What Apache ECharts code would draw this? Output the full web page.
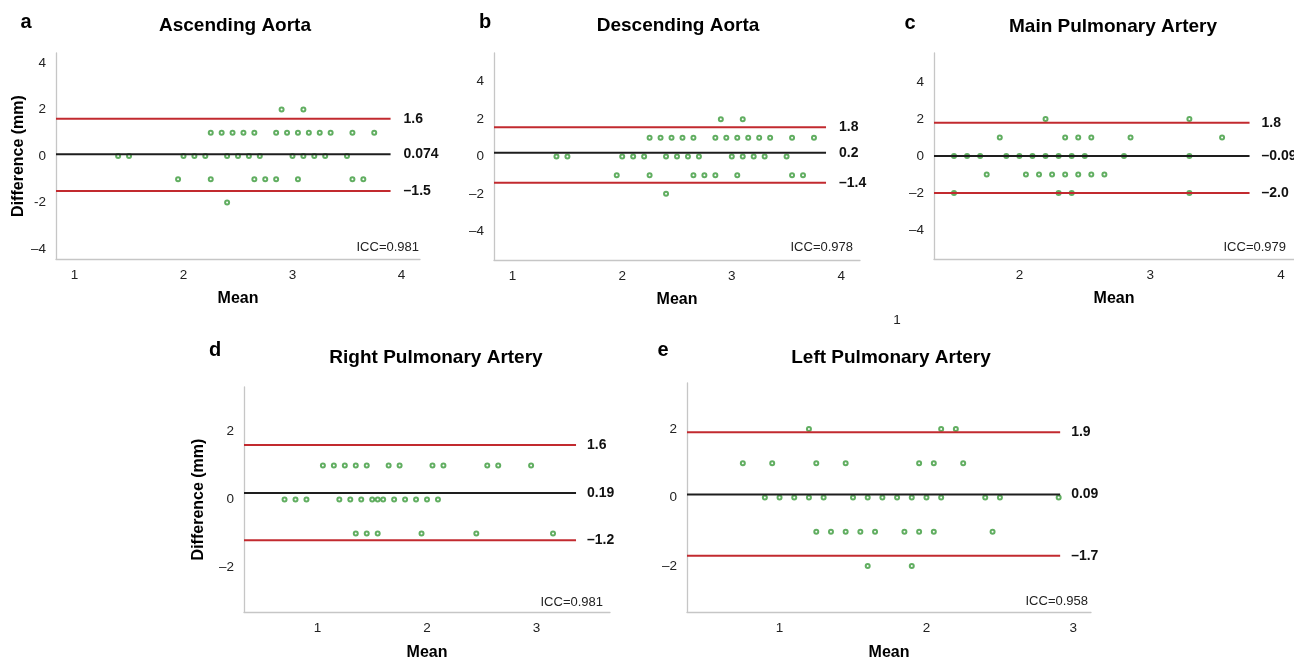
<!DOCTYPE html>
<html><head><meta charset="utf-8">
<script src="https://cdn.jsdelivr.net/npm/echarts@6/dist/echarts.min.js"></script>
<style>html,body{margin:0;padding:0;background:#fff}#c{width:1294px;height:662px}</style>
</head><body><div id="c"></div>
<script>
// ---------- DATA ----------
// difference levels (rows of points)
const diffLevels = [2, 1, 0, -1, -2];

// Panel a: Ascending Aorta — mean values for each difference level
const aAt2  = [2.9, 3.1];
const aAt1  = [2.25, 2.35, 2.45, 2.55, 2.65, 2.85, 2.95, 3.05, 3.15, 3.25, 3.35, 3.55, 3.75];
const aAt0  = [1.4, 1.5, 2.0, 2.1, 2.2, 2.4, 2.5, 2.6, 2.7, 3.0, 3.1, 3.2, 3.3, 3.5];
const aAtM1 = [1.95, 2.25, 2.65, 2.75, 2.85, 3.05, 3.55, 3.65];
const aAtM2 = [2.4];
const aLimits = [1.6, 0.074, -1.5];
const aLimitLabels = ['1.6', '0.074', '\u20131.5'];

// Panel b: Descending Aorta
const bAt2  = [2.9, 3.1];
const bAt1  = [2.25, 2.35, 2.45, 2.55, 2.65, 2.85, 2.95, 3.05, 3.15, 3.25, 3.35, 3.55, 3.75];
const bAt0  = [1.4, 1.5, 2.0, 2.1, 2.2, 2.4, 2.5, 2.6, 2.7, 3.0, 3.1, 3.2, 3.3, 3.5];
const bAtM1 = [1.95, 2.25, 2.65, 2.75, 2.85, 3.05, 3.55, 3.65];
const bAtM2 = [2.4];
const bLimits = [1.57, 0.2, -1.4];
const bLimitLabels = ['1.8', '0.2', '\u20131.4'];

// Panel c: Main Pulmonary Artery
const cAt2  = [2.2, 3.3];
const cAt1  = [1.85, 2.35, 2.45, 2.55, 2.85, 3.55];
const cAt0  = [1.5, 1.6, 1.7, 1.9, 2.0, 2.1, 2.2, 2.3, 2.4, 2.5, 2.8, 3.3];
const cAtM1 = [1.75, 2.05, 2.15, 2.25, 2.35, 2.45, 2.55, 2.65];
const cAtM2 = [1.5, 2.3, 2.4, 3.3];
const cLimits = [1.8, 0.0, -2.0];
const cLimitLabels = ['1.8', '\u20130.09', '\u20132.0'];

// Panel d: Right Pulmonary Artery
const dAt2  = [];
const dAt1  = [1.05, 1.15, 1.25, 1.35, 1.45, 1.65, 1.75, 2.05, 2.15, 2.55, 2.65, 2.95];
const dAt0  = [0.7, 0.8, 0.9, 1.2, 1.3, 1.4, 1.5, 1.55, 1.6, 1.7, 1.8, 1.9, 2.0, 2.1];
const dAtM1 = [1.35, 1.45, 1.55, 1.95, 2.45, 3.15];
const dAtM2 = [];
const dLimits = [1.6, 0.19, -1.2];
const dLimitLabels = ['1.6', '0.19', '\u20131.2'];

// Panel e: Left Pulmonary Artery
const eAt2  = [1.2, 2.1, 2.2];
const eAt1  = [0.75, 0.95, 1.25, 1.45, 1.95, 2.05, 2.25];
const eAt0  = [0.9, 1.0, 1.1, 1.2, 1.3, 1.5, 1.6, 1.7, 1.8, 1.9, 2.0, 2.1, 2.4, 2.5, 2.9];
const eAtM1 = [1.25, 1.35, 1.45, 1.55, 1.65, 1.85, 1.95, 2.05, 2.45];
const eAtM2 = [1.6, 1.9];
const eLimits = [1.9, 0.09, -1.7];
const eLimitLabels = ['1.9', '0.09', '\u20131.7'];

// Titles, ICC, ticks
const panelLetters = ['a', 'b', 'c', 'd', 'e'];
const panelTitles = ['Ascending Aorta', 'Descending Aorta', 'Main Pulmonary Artery', 'Right Pulmonary Artery', 'Left Pulmonary Artery'];
const iccTexts = ['ICC=0.981', 'ICC=0.978', 'ICC=0.979', 'ICC=0.981', 'ICC=0.958'];
const xTicksAB = [1, 2, 3, 4];
const xTicksC = [2, 3, 4];
const xTicksDE = [1, 2, 3];
const yTicksABC = [4, 2, 0, -2, -4];
const yTicksDE = [2, 0, -2];
const yTickLabelsA = ['4', '2', '0', '-2', '\u20134'];
const yTickLabelsBC = ['4', '2', '0', '\u20132', '\u20134'];
const yTickLabelsDE = ['2', '0', '\u20132'];

// ---------- LAYOUT / STYLE ----------
const FONT = '"Liberation Sans", Arial, Helvetica, sans-serif';
const RED = '#c22a2f', BLACK = '#1e1e1e', GREEN = '#3a9a3a', AXIS = '#c6c6c6';

const panels = [
  {rows:[aAt2,aAt1,aAt0,aAtM1,aAtM2], limits:aLimits, labels:aLimitLabels,
   grid:{left:56, top:53, width:364, height:206}, xMin:0.83, xMax:4.17, yR:4.43, lineEnd:3.9, dist:13,
   xTicks:xTicksAB, yTicks:yTicksABC, yLabels:yTickLabelsA, yName:'Difference (mm)', yGap:29,
   title:[235,26], letter:[26,22], icc:[419,247], mean:32},
  {rows:[bAt2,bAt1,bAt0,bAtM1,bAtM2], limits:bLimits, labels:bLimitLabels,
   grid:{left:494, top:53, width:366, height:207}, xMin:0.83, xMax:4.17, yR:5.54, lineEnd:3.86, dist:13,
   xTicks:xTicksAB, yTicks:yTicksABC, yLabels:yTickLabelsBC, yName:'', yGap:0,
   title:[678,26], letter:[485,22], icc:[853,247], mean:32},
  {rows:[cAt2,cAt1,cAt0,cAtM1,cAtM2], limits:cLimits, labels:cLimitLabels,
   grid:{left:934, top:53, width:360, height:206}, xMin:1.347, xMax:4.1, yR:5.57, lineEnd:3.76, dist:12,
   xTicks:xTicksC, yTicks:yTicksABC, yLabels:yTickLabelsBC, yName:'', yGap:0,
   title:[1113,27], letter:[910,23], icc:[1286,247], mean:32},
  {rows:[dAt2,dAt1,dAt0,dAtM1,dAtM2], limits:dLimits, labels:dLimitLabels,
   grid:{left:244, top:387, width:366, height:226}, xMin:0.33, xMax:3.67, yR:3.31, lineEnd:3.36, dist:11,
   xTicks:xTicksDE, yTicks:yTicksDE, yLabels:yTickLabelsDE, yName:'Difference (mm)', yGap:37,
   title:[436,358], letter:[215,350], icc:[603,602], mean:33},
  {rows:[eAt2,eAt1,eAt0,eAtM1,eAtM2], limits:eLimits, labels:eLimitLabels,
   grid:{left:687, top:383, width:404, height:230}, xMin:0.37, xMax:3.12, yR:3.34, lineEnd:2.91, dist:11,
   xTicks:xTicksDE, yTicks:yTicksDE, yLabels:yTickLabelsDE, yName:'', yGap:0,
   title:[891,358], letter:[663,350], icc:[1088,601], mean:33}
];

const grids = [], xAxes = [], yAxes = [], series = [], graphics = [];

panels.forEach((p, i) => {
  grids.push(Object.assign({containLabel:false}, p.grid));
  xAxes.push({
    type:'value', gridIndex:i, min:p.xMin, max:p.xMax,
    axisLine:{show:true, onZero:false, lineStyle:{color:AXIS, width:1.3}},
    axisTick:{show:false}, splitLine:{show:false},
    axisLabel:{customValues:p.xTicks, fontFamily:FONT, fontSize:13.5, color:'#222', margin:9,
               formatter:v => String(Math.round(v))},
    name:'Mean', nameLocation:'middle', nameGap:p.mean,
    nameTextStyle:{fontFamily:FONT, fontSize:16, fontWeight:'bold', color:'#000'}
  });
  yAxes.push({
    type:'value', gridIndex:i, min:-p.yR, max:p.yR,
    axisLine:{show:true, onZero:false, lineStyle:{color:AXIS, width:1.3}},
    axisTick:{show:false}, splitLine:{show:false},
    axisLabel:{customValues:p.yTicks, fontFamily:FONT, fontSize:13.5, color:'#222', margin:10,
               formatter:v => { const k = p.yTicks.indexOf(Math.round(v)); return k >= 0 ? p.yLabels[k] : ''; }},
    name:p.yName, nameLocation:'middle', nameGap:p.yGap,
    nameTextStyle:{fontFamily:FONT, fontSize:16, fontWeight:'bold', color:'#000'}
  });
  const pts = [];
  p.rows.forEach((row, r) => row.forEach(x => pts.push([x, diffLevels[r]])));
  series.push({
    type:'scatter', xAxisIndex:i, yAxisIndex:i, data:pts, silent:true,
    symbol:'emptyCircle', symbolSize:4,
    itemStyle:{color:GREEN, borderColor:GREEN, borderWidth:1.3}
  });
  p.limits.forEach((v, k) => {
    series.push({
      type:'line', xAxisIndex:i, yAxisIndex:i, silent:true, symbol:'none',
      data:[[p.xMin, v], [p.lineEnd, v]],
      lineStyle:{color: k === 1 ? BLACK : RED, width:2},
      endLabel:{show:true, formatter:() => p.labels[k], distance:p.dist,
                fontFamily:FONT, fontSize:14, fontWeight:'bold', color:'#111'}
    });
  });
  graphics.push({type:'text', x:p.title[0], y:p.title[1],
    style:{text:panelTitles[i], font:'bold 19px ' + FONT, fill:'#000', align:'center', verticalAlign:'middle'}});
  graphics.push({type:'text', x:p.letter[0], y:p.letter[1],
    style:{text:panelLetters[i], font:'bold 20px ' + FONT, fill:'#000', align:'center', verticalAlign:'middle'}});
  graphics.push({type:'text', x:p.icc[0], y:p.icc[1],
    style:{text:iccTexts[i], font:'13px ' + FONT, fill:'#222', align:'right', verticalAlign:'middle'}});
});
// stray tick label "1" below panel c
graphics.push({type:'text', x:897, y:320,
  style:{text:'1', font:'13.5px ' + FONT, fill:'#222', align:'center', verticalAlign:'middle'}});

const chart = echarts.init(document.getElementById('c'), null, {renderer:'canvas'});
chart.setOption({
  animation:false,
  backgroundColor:'#fff',
  grid:grids, xAxis:xAxes, yAxis:yAxes, series:series, graphic:graphics
});
</script></body></html>
